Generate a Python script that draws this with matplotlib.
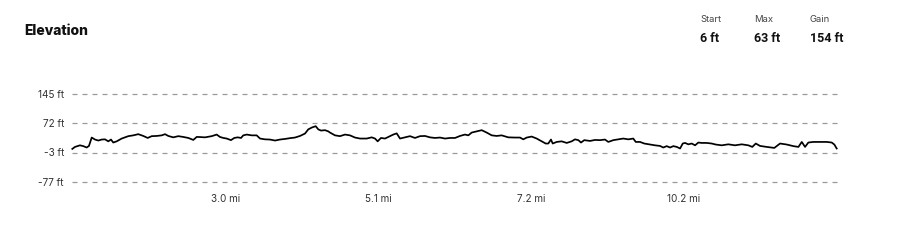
import matplotlib
matplotlib.use("Agg")
import matplotlib.pyplot as plt

plt.rcParams["font.family"] = ["Inter", "DejaVu Sans"]

# distance along route, percent of total
dist = [0, 0.35, 1.0, 1.44, 1.88, 2.18, 2.54, 2.97, 3.40, 3.85, 4.28, 4.71, 5.06, 5.36, 5.81,
        6.46, 7.33, 7.98, 8.63, 9.29, 9.86, 10.39, 11.04, 11.70, 12.13, 12.56, 13.21, 13.87,
        14.52, 15.18, 15.83, 16.27, 16.48, 17.36, 18.24, 18.89, 19.32, 19.76, 20.20, 20.76,
        21.19, 21.64, 22.07, 22.37, 22.82, 23.47, 24.12, 24.56, 25.21, 25.86, 26.52, 27.17,
        27.82, 28.48, 29.13, 29.79, 30.44, 30.87, 31.32, 31.84, 32.18, 32.54, 33.06, 33.49,
        33.71, 34.37, 35.02, 35.68, 36.33, 36.98, 37.64, 38.51, 39.17, 39.60, 39.95, 40.38,
        40.91, 41.56, 41.99, 42.44, 42.87, 43.52, 44.18, 44.83, 45.49, 46.14, 46.79, 47.45,
        48.10, 48.76, 49.41, 50.07, 50.72, 51.37, 51.81, 52.25, 52.90, 53.56, 54.21, 54.87,
        55.52, 56.17, 57.04, 57.92, 58.57, 59.00, 59.45, 60.10, 60.75, 61.32, 61.93, 62.27,
        62.62, 62.85, 63.37, 64.02, 64.68, 65.33, 65.76, 66.20, 66.55, 66.98, 67.73, 68.38,
        69.04, 69.69, 70.12, 70.78, 71.43, 72.08, 72.74, 73.39, 73.71, 74.27, 74.83, 75.58,
        76.23, 76.88, 77.32, 77.76, 78.20, 78.63, 79.08, 79.51, 79.86, 80.16, 80.59, 81.04,
        81.47, 81.90, 82.34, 82.99, 83.65, 84.17, 84.96, 85.82, 86.70, 87.57, 88.44, 88.96,
        89.41, 89.97, 90.85, 91.84, 92.59, 93.47, 94.33, 94.99, 95.43, 95.86, 96.29, 96.94,
        97.82, 98.70, 99.35, 99.69, 100]

# elevation in ft
elev = [6, 11, 15, 13, 9.5, 13.5, 34.5, 29.5, 27, 29.5, 30, 25, 29.5, 22, 25,
        32, 38, 40, 43, 38.5, 33.5, 38, 38.5, 40, 43, 38.5, 35, 38,
        36, 33.5, 28.5, 36, 36, 35, 38, 42, 36, 33.5, 32, 28,
        33.5, 35, 33.5, 40, 42, 40, 40, 32, 30, 29.5, 27, 29.5,
        31, 33, 34.5, 38.5, 44.5, 55, 59.5, 63, 55, 52, 53, 50,
        47, 40, 38, 42, 40, 34.5, 32, 32, 35, 32, 25, 33.5,
        32, 38, 42, 45, 32, 35, 38, 33.5, 38, 38.5, 35, 33.5,
        34.5, 32, 33.5, 33.5, 38.5, 42, 40, 47, 50, 53, 47, 40,
        38.5, 40, 35, 34.5, 34.5, 30, 34.5, 37, 32, 26, 19.5, 19.5,
        29.5, 19.5, 23.5, 25, 21, 25, 30, 28, 22, 28, 26, 28.5,
        28, 29.5, 23.5, 28, 30, 32, 30, 32, 23.5, 23.5, 19.5, 17,
        15, 13.5, 9.5, 13, 9.5, 13, 11, 7, 19.5, 21, 17.5, 19.5,
        15, 22, 21, 21, 19.5, 17, 15, 17.5, 15, 17.5, 15, 11,
        19.5, 13.5, 11, 8.5, 19.5, 17, 13, 11, 23.5, 11, 22, 23.5,
        23.5, 23.5, 22, 17, 7]

y_ticks = [-77, -3, 72, 145]
x_ticks = [20, 40, 60, 80]
x_labels = ["3.0 mi", "5.1 mi", "7.2 mi", "10.2 mi"]

stats = [("Start", "6 ft"), ("Max", "63 ft"), ("Gain", "154 ft")]

fig = plt.figure(figsize=(9, 2.48), dpi=100)
ax = fig.add_axes([72.3 / 900, (248 - 182) / 248, (836.7 - 72.3) / 900, 88.5 / 248])

ax.plot(dist, elev, color="black", lw=1.25, solid_joinstyle="round", clip_on=False)
ax.set_xlim(0, 100)
ax.set_ylim(-77, 145)

for v in y_ticks:
    ax.axhline(v, color="#9a9a9a", lw=0.9, dashes=(4, 4), zorder=0, clip_on=False)

ax.set_yticks(y_ticks)
ax.set_yticklabels([f"{v} ft" for v in y_ticks])
ax.set_xticks(x_ticks)
ax.set_xticklabels(x_labels)
ax.tick_params(length=0, labelsize=7.2, labelcolor="#333333")
ax.tick_params(axis="y", pad=6)
ax.tick_params(axis="x", pad=9)
for s in ax.spines.values():
    s.set_visible(False)

fig.text(24 / 900, 1 - 31 / 248, "Elevation", fontsize=10, fontweight=800,
         va="center", ha="left", color="#111111")

stat_x = [700, 754, 810]
for (lab, val), sx in zip(stats, stat_x):
    fig.text(sx / 900, 1 - 20 / 248, lab, fontsize=6.8, color="#444444", va="center", ha="left")
    fig.text(sx / 900, 1 - 38 / 248, val, fontsize=9, fontweight="bold", color="#111111",
             va="center", ha="left", family=["Roboto", "DejaVu Sans"])

fig.savefig("out.png", dpi=100)
